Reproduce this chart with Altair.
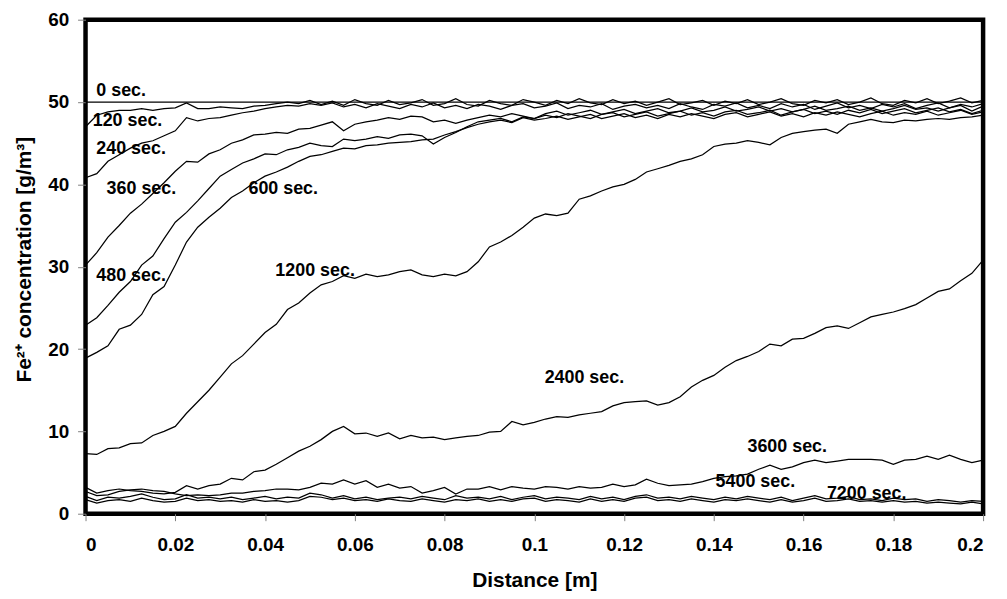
import altair as alt
import pandas as pd

# sample positions along the column [m]
xs = [round(i * 0.0025, 4) for i in range(81)]

c0_x = [0.0, 0.2]
c0 = [50.0, 50.0]

c120 = [47.0, 48.4, 48.8, 49.0, 49.0, 49.2, 49.0, 49.2, 49.3, 49.9,
        49.2, 49.2, 49.4, 49.3, 49.2, 49.5, 49.6, 49.8, 50.0, 49.8,
        50.2, 49.7, 50.1, 49.6, 50.3, 49.8, 49.6, 50.2, 49.7, 49.9,
        50.3, 49.6, 49.8, 50.4, 49.7, 49.5, 50.2, 49.8, 49.6, 50.3,
        50.0, 49.6, 50.2, 49.8, 50.4, 49.9, 49.7, 50.3, 49.8, 50.1,
        49.6, 50.0, 50.4, 49.7, 49.9, 50.2, 49.6, 50.1, 49.8, 50.3,
        49.7, 50.0, 50.4, 49.8, 49.6, 50.2, 49.9, 50.3, 49.7, 50.0,
        50.5, 49.8, 49.6, 50.2, 49.9, 50.4, 49.8, 50.1, 50.5, 49.9,
        50.2]
c240 = [40.8, 41.3, 42.8, 43.6, 44.4, 45.0, 45.3, 45.9, 46.5, 48.1,
        47.7, 48.0, 48.1, 48.4, 48.7, 48.9, 49.2, 49.4, 49.6, 49.5,
        49.8, 49.6, 49.9, 49.4, 49.7, 49.3, 49.8, 49.5, 49.2, 49.7,
        49.4, 49.9, 49.3, 49.6, 49.2, 49.7, 49.5, 49.1, 49.6, 49.8,
        49.3, 49.5, 49.9, 49.2, 49.6, 49.4, 49.8, 49.1, 49.5, 49.7,
        49.3, 49.6, 49.2, 49.8, 49.4, 49.1, 49.7, 49.5, 49.9, 49.3,
        49.6, 49.2, 49.8, 49.4, 49.7, 49.1, 49.5, 49.9, 49.3, 49.6,
        49.2, 49.7, 49.4, 49.8, 49.2, 49.6, 49.9, 49.3, 49.7, 49.4,
        49.8]
c360 = [30.2, 31.7, 33.6, 35.0, 36.5, 37.6, 38.9, 40.2, 41.6, 42.8,
        42.7, 43.7, 44.2, 45.0, 45.4, 46.0, 46.1, 46.3, 46.2, 46.7,
        46.8, 47.2, 47.6, 46.5, 47.3, 47.6, 47.8, 48.1, 47.9, 48.3,
        48.2, 47.6, 47.8, 47.4, 47.8, 48.1, 48.4, 48.2, 48.6, 48.3,
        48.0, 48.6, 48.9, 48.4, 48.7, 49.0, 48.5, 48.8, 49.1, 48.6,
        48.9, 49.2, 48.7, 48.9, 49.3, 48.8, 49.0, 49.4, 48.9, 49.1,
        49.4, 48.9, 49.2, 48.8, 49.1, 49.5, 49.0, 49.2, 49.5, 49.0,
        49.3, 48.9, 49.2, 49.6, 49.1, 49.3, 48.9, 49.3, 49.6, 48.9,
        49.5]
c480 = [22.9, 23.8, 25.3, 26.9, 28.2, 30.2, 31.3, 33.4, 35.4, 36.6,
        38.0, 39.5, 41.0, 41.8, 42.6, 43.1, 43.7, 43.6, 44.2, 44.5,
        45.0, 44.7, 44.6, 45.5, 45.3, 45.5, 45.8, 45.6, 46.0, 46.1,
        45.9, 44.9, 45.7, 46.3, 47.0, 47.6, 47.8, 48.0, 47.6, 48.2,
        48.0, 48.4, 48.1, 48.6, 48.3, 48.0, 48.5, 48.7, 48.2, 48.5,
        48.8, 48.3, 48.6, 48.9, 48.4, 48.7, 48.3, 48.8, 49.0, 48.5,
        48.7, 49.0, 48.4, 48.8, 49.1, 48.6, 48.9, 48.5, 49.0, 48.7,
        49.1, 48.6, 48.9, 49.2, 48.7, 49.0, 49.3, 48.8, 49.1, 48.6,
        49.0]
c600 = [18.9, 19.6, 20.4, 22.4, 22.9, 24.2, 26.6, 27.6, 30.2, 33.0,
        34.8, 36.0, 37.1, 38.4, 39.2, 40.2, 41.0, 41.5, 42.1, 42.8,
        43.4, 43.6, 44.0, 44.4, 44.3, 44.7, 44.8, 45.0, 45.1, 45.2,
        45.4, 45.5, 46.0, 46.4, 46.9, 47.3, 47.6, 47.8, 47.5, 48.1,
        47.8, 48.0, 48.3, 47.9, 48.2, 48.5, 48.0, 48.3, 48.6, 48.1,
        48.4, 48.0, 48.5, 48.2, 48.6, 48.3, 48.0, 48.5, 48.7, 48.2,
        48.5, 48.8, 48.3, 48.6, 48.2, 48.7, 48.4, 48.8, 48.5, 48.2,
        48.6, 48.9, 48.4, 48.7, 48.5, 48.9, 48.4, 48.7, 49.0, 48.5,
        48.8]
c1200 = [7.3, 7.2, 7.9, 8.0, 8.5, 8.6, 9.5, 10.0, 10.6, 12.2,
         13.6, 15.0, 16.6, 18.2, 19.2, 20.6, 22.0, 23.0, 24.8, 25.6,
         26.8, 27.8, 28.2, 28.9, 28.6, 29.1, 28.8, 29.0, 29.4, 29.6,
         29.0, 28.8, 29.1, 28.9, 29.4, 30.6, 32.4, 33.0, 33.8, 34.8,
         35.9, 36.4, 36.2, 36.5, 38.2, 38.6, 39.2, 39.7, 40.0, 40.6,
         41.5, 41.9, 42.3, 42.8, 43.1, 43.6, 44.6, 44.9, 45.0, 45.3,
         45.1, 44.8, 45.7, 46.2, 46.4, 46.6, 46.7, 46.2, 47.3, 47.6,
         47.9, 47.6, 47.5, 47.8, 47.7, 47.9, 48.0, 47.9, 48.1, 48.2,
         48.4]
c2400 = [3.2, 2.5, 2.8, 3.0, 2.8, 2.7, 2.5, 2.4, 2.6, 3.4,
         3.0, 3.4, 3.6, 4.3, 4.1, 5.1, 5.3, 6.0, 6.8, 7.6,
         8.2, 9.0, 10.0, 10.6, 9.7, 9.8, 9.4, 9.8, 9.1, 9.5,
         9.2, 9.3, 9.0, 9.2, 9.4, 9.5, 9.9, 10.0, 11.2, 10.8,
         11.1, 11.5, 11.8, 11.7, 12.0, 12.2, 12.4, 13.1, 13.5, 13.6,
         13.7, 13.2, 13.5, 14.2, 15.4, 16.2, 16.8, 17.8, 18.6, 19.1,
         19.7, 20.6, 20.4, 21.2, 21.3, 21.9, 22.6, 22.8, 22.5, 23.2,
         23.9, 24.2, 24.5, 24.9, 25.4, 26.2, 27.0, 27.3, 28.3, 29.2,
         30.8]
c3600 = [2.7, 2.2, 2.3, 2.7, 2.9, 3.0, 2.8, 2.7, 2.4, 2.2,
         2.3, 2.2, 2.3, 2.5, 2.5, 2.7, 2.8, 3.0, 3.0, 2.9,
         3.2, 3.7, 3.6, 4.1, 3.6, 4.0, 3.2, 3.6, 3.1, 3.3,
         2.5, 2.8, 3.2, 2.4, 3.0, 3.0, 3.3, 2.9, 3.3, 3.1,
         3.0, 3.3, 3.2, 3.0, 3.3, 3.1, 3.2, 3.6, 3.3, 3.5,
         4.2, 3.7, 3.4, 3.5, 3.6, 3.9, 4.3, 4.5, 4.6, 4.8,
         5.4, 5.9, 5.4, 5.7, 6.2, 6.5, 6.2, 6.4, 6.6, 6.6,
         6.6, 6.5, 6.0, 6.5, 6.6, 7.0, 6.6, 7.1, 6.6, 6.2,
         6.5]
c5400 = [2.1, 1.6, 2.0, 1.9, 2.1, 2.4, 2.0, 1.7, 1.8, 2.3,
         1.9, 2.0, 1.8, 2.0, 1.7, 1.9, 2.1, 1.8, 2.0, 1.9,
         2.5, 2.3, 1.9, 2.2, 1.8, 2.0, 1.7, 1.9, 2.0, 1.8,
         2.1, 1.9, 1.7, 2.2, 1.9, 2.0, 1.8, 2.1, 1.7, 2.0,
         2.2, 1.8, 2.0, 1.9, 1.7, 2.1, 1.8, 2.0, 1.7, 2.1,
         2.3, 1.9, 2.0, 1.8, 2.1, 1.9, 1.7, 2.0, 1.8, 2.1,
         1.9, 1.7, 2.0, 1.6, 1.9, 2.2, 1.8, 1.9, 2.1, 1.7,
         1.8, 1.6, 1.9, 1.7, 1.8, 1.5, 1.7, 1.6, 1.4, 1.6,
         1.5]
c7200 = [1.7, 1.3, 1.6, 1.7, 1.5, 1.9, 1.6, 1.4, 1.5, 1.9,
         1.6, 1.7, 1.5, 1.6, 1.4, 1.7, 1.5, 1.6, 1.4, 1.6,
         2.1, 2.0, 1.7, 1.9, 1.6, 1.7, 1.5, 1.8, 1.6, 1.5,
         1.8, 1.6, 1.4, 1.7, 1.6, 1.8, 1.5, 1.7, 1.5, 1.8,
         1.9, 1.5, 1.7, 1.6, 1.4, 1.8, 1.5, 1.7, 1.5, 1.9,
         2.0, 1.6, 1.7, 1.5, 1.8, 1.6, 1.4, 1.7, 1.6, 1.8,
         1.6, 1.4, 1.7, 1.4, 1.6, 1.9, 1.5, 1.6, 1.8, 1.5,
         1.6, 1.4, 1.6, 1.4, 1.5, 1.3, 1.4, 1.3, 1.2, 1.4,
         1.2]

label_text = ["0 sec.", "120 sec.", "240 sec.", "360 sec.", "480 sec.", "600 sec.",
              "1200 sec.", "2400 sec.", "3600 sec.", "5400 sec.", "7200 sec."]
label_x = [0.0024, 0.0016, 0.0024, 0.0047, 0.0024, 0.0363,
           0.0423, 0.1023, 0.1475, 0.1404, 0.1652]
label_y = [51.3, 47.7, 44.3, 39.4, 28.9, 39.4, 29.5, 16.5, 8.1, 3.8, 2.4]

x_ticks = [0, 0.02, 0.04, 0.06, 0.08, 0.1, 0.12, 0.14, 0.16, 0.18, 0.2]
y_ticks = [0, 10, 20, 30, 40, 50, 60]

rows = []
for xv, yv in zip(c0_x, c0):
    rows.append({"series": "0", "x": xv, "y": yv})
for name, ser in [("120", c120), ("240", c240), ("360", c360), ("480", c480),
                  ("600", c600), ("1200", c1200), ("2400", c2400),
                  ("3600", c3600), ("5400", c5400), ("7200", c7200)]:
    for xv, yv in zip(xs, ser):
        rows.append({"series": name, "x": xv, "y": yv})
df = pd.DataFrame(rows)
labels = pd.DataFrame({"t": label_text, "x": label_x, "y": label_y})

FONT = "Liberation Sans"

xscale = alt.Scale(domain=[0, 0.2], nice=False, zero=False)
yscale = alt.Scale(domain=[0, 60], nice=False)

lines = alt.Chart(df).mark_line(color="black", strokeWidth=1.25).encode(
    x=alt.X("x:Q", scale=xscale,
            axis=alt.Axis(values=x_ticks, format="~g", title="Distance [m]",
                          tickSize=7, labelPadding=15, titleY=67,
                          titleBaseline="middle")),
    y=alt.Y("y:Q", scale=yscale,
            axis=alt.Axis(values=y_ticks, title="Fe²⁺ concentration [g/m³]",
                          tickSize=8, labelPadding=9, titleX=-61, titleY=241,
                          titleBaseline="middle")),
    detail="series:N",
    order="x:Q",
)

texts = alt.Chart(labels).mark_text(
    align="left", baseline="middle", font=FONT, fontSize=18, fontWeight="bold",
    color="black"
).encode(x=alt.X("x:Q", scale=xscale), y=alt.Y("y:Q", scale=yscale), text="t:N")

chart = alt.layer(lines, texts).properties(
    width=903, height=497,
    autosize=alt.AutoSizeParams(type="none"),
    padding={"left": 78, "top": 10, "right": 16, "bottom": 78},
).configure_view(
    stroke="black", strokeWidth=4.5
).configure_axis(
    domain=False, grid=False, tickColor="#808080", tickWidth=1,
    labelFont=FONT, labelFontSize=19, labelFontWeight="bold", labelColor="black",
    titleFont=FONT, titleFontSize=21, titleFontWeight="bold", titleColor="black",
)

chart.save("out.html", embed_options={"renderer": "svg", "actions": False})
